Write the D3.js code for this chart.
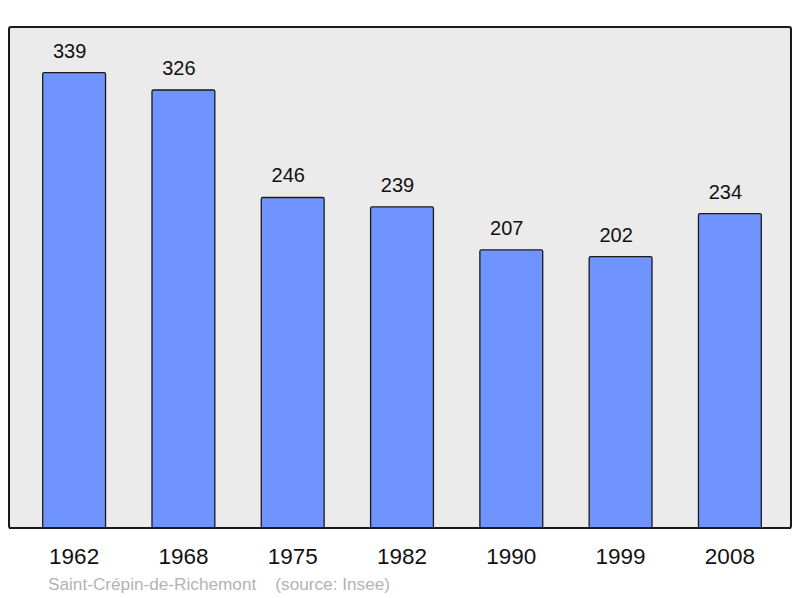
<!DOCTYPE html>
<html>
<head>
<meta charset="utf-8">
<script src="https://cdn.jsdelivr.net/npm/d3@7"></script>
<style>
  body { margin: 0; background: #fff; }
  svg { display: block; font-family: "Liberation Sans", Arial, sans-serif; }
</style>
</head>
<body>
<svg id="chart"></svg>
<script>
const years = ["1962", "1968", "1975", "1982", "1990", "1999", "2008"];
const population = [339, 326, 246, 239, 207, 202, 234];
const commune = "Saint-Crépin-de-Richemont";
const source = "(source: Insee)";

const width = 800, height = 598;
const frame = { left: 9, top: 27, right: 791, bottom: 528 };

const svg = d3.select("#chart")
  .attr("width", width)
  .attr("height", height);

// plot frame
svg.append("rect")
  .attr("x", frame.left)
  .attr("y", frame.top)
  .attr("width", frame.right - frame.left)
  .attr("height", frame.bottom - frame.top)
  .attr("rx", 2)
  .attr("fill", "#ebebeb")
  .attr("stroke", "#1a1a1a")
  .attr("stroke-width", 2);

// bars sit ~2px right of a symmetric layout in the original
const x = d3.scaleBand()
  .domain(years)
  .range([frame.left + 2, frame.right + 2])
  .paddingInner(0.425)
  .paddingOuter(0.29);

const y = d3.scaleLinear()
  .domain([0, d3.max(population) * 1.1])
  .range([frame.bottom, frame.top]);

const data = years.map((yr, i) => ({ year: yr, value: population[i] }));

svg.append("g")
  .selectAll("rect")
  .data(data)
  .enter()
  .append("rect")
  .attr("x", d => x(d.year))
  .attr("y", d => y(d.value))
  .attr("width", x.bandwidth())
  .attr("height", d => y(0) - y(d.value))
  .attr("rx", 1.5)
  .attr("fill", "#7094ff")
  .attr("stroke", "#1a1a1a")
  .attr("stroke-width", 1.3);

// redraw bottom border over bars
svg.append("line")
  .attr("x1", frame.left).attr("x2", frame.right)
  .attr("y1", frame.bottom).attr("y2", frame.bottom)
  .attr("stroke", "#1a1a1a")
  .attr("stroke-width", 2);

// value labels (a little left of bar centre, like the original)
svg.append("g")
  .selectAll("text")
  .data(data)
  .enter()
  .append("text")
  .attr("x", d => x(d.year) + x.bandwidth() / 2 - 4.5)
  .attr("y", d => y(d.value) - 15)
  .attr("text-anchor", "middle")
  .attr("font-size", 20)
  .attr("fill", "#111")
  .text(d => d.value);

// year labels
const xAxis = d3.axisBottom(x).tickSize(0).tickPadding(0);
const gx = svg.append("g")
  .attr("transform", `translate(0, ${frame.bottom})`)
  .call(xAxis);
gx.select(".domain").remove();
gx.selectAll("text")
  .attr("dy", null)
  .attr("y", 36)
  .attr("font-size", 22.5)
  .attr("font-family", "Liberation Sans, Arial, sans-serif")
  .attr("fill", "#111");

// caption
svg.append("text")
  .attr("x", 48)
  .attr("y", 590)
  .attr("font-size", 17.2)
  .attr("fill", "#b3b3b3")
  .style("white-space", "pre")
  .text(commune + "    " + source);
</script>
</body>
</html>
